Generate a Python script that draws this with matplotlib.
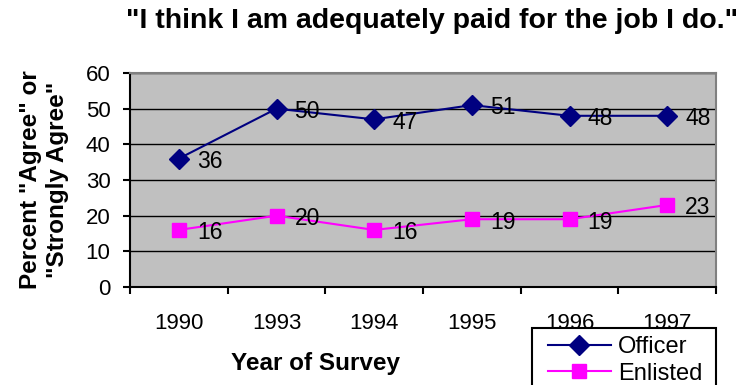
import matplotlib
matplotlib.use("Agg")
import matplotlib.pyplot as plt
from matplotlib.patches import Rectangle
import numpy as np

years = ["1990", "1993", "1994", "1995", "1996", "1997"]
officer = [36, 50, 47, 51, 48, 48]
enlisted = [16, 20, 16, 19, 19, 23]

plt.rcParams['font.family'] = ['Liberation Sans', 'DejaVu Sans']

fig = plt.figure(figsize=(7.46, 3.85), dpi=100)
ax = fig.add_axes([130/746, 1-287/385, 586/746, 214/385])
ax.set_facecolor('#C0C0C0')

x = np.arange(len(years)) + 0.5
l1, = ax.plot(x, officer, color='#000080', marker='D', markersize=10, lw=1.5, label='Officer')
l2, = ax.plot(x, enlisted, color='#FF00FF', marker='s', markersize=10, lw=1.5, label='Enlisted')

for series in (officer, enlisted):
    for xi, v in zip(x, series):
        ax.annotate(str(v), (xi, v), xytext=(13, -2), textcoords='offset points',
                    ha='left', va='center', fontsize=16.5)

ax.set_xlim(0, len(years))
ax.set_ylim(0, 60)
ax.set_yticks(range(0, 61, 10))
ax.yaxis.grid(True, color='black', lw=1)
ax.set_axisbelow(True)
ax.set_xticks(np.arange(len(years) + 1))
ax.set_xticklabels([])
ax.set_xticks(x, minor=True)
ax.set_xticklabels(years, minor=True, fontsize=16)
ax.tick_params(axis='x', which='minor', length=0, pad=19)
ax.tick_params(axis='x', which='major', length=5, width=1.5, direction='out')
ax.tick_params(axis='y', length=5, width=1.5, direction='out', labelsize=16, pad=9)

for s in ['left', 'bottom']:
    ax.spines[s].set_color('black')
    ax.spines[s].set_linewidth(1.5)
for s in ['top', 'right']:
    ax.spines[s].set_color('#808080')
    ax.spines[s].set_linewidth(1.5)

ax.set_xlabel('Year of Survey', fontsize=17.5, fontweight='bold')
ax.xaxis.set_label_coords(0.316, -0.305)
ax.set_ylabel('Percent "Agree" or\n"Strongly Agree"', fontsize=17.5, fontweight='bold',
              labelpad=12, linespacing=1.25)

fig.text(432/746, 1-21/385, '"I think I am adequately paid for the job I do."',
         ha='center', va='center', fontsize=20.5, fontweight='bold')

# legend box, running off the bottom edge of the figure
fig.patches.append(Rectangle((532/746, -0.05), 184/746, 1-328/385+0.05,
                             transform=fig.transFigure, facecolor='white',
                             edgecolor='black', lw=1.5, zorder=5))
leg = fig.legend(handles=[l1, l2], loc='upper left', bbox_to_anchor=(548/746, 1-336/385),
                 bbox_transform=fig.transFigure, frameon=False,
                 fontsize=17, borderpad=0, labelspacing=0.2,
                 handlelength=2.65, handletextpad=0.3, borderaxespad=0)
leg.set_zorder(6)

fig.savefig('out.png', dpi=100)
